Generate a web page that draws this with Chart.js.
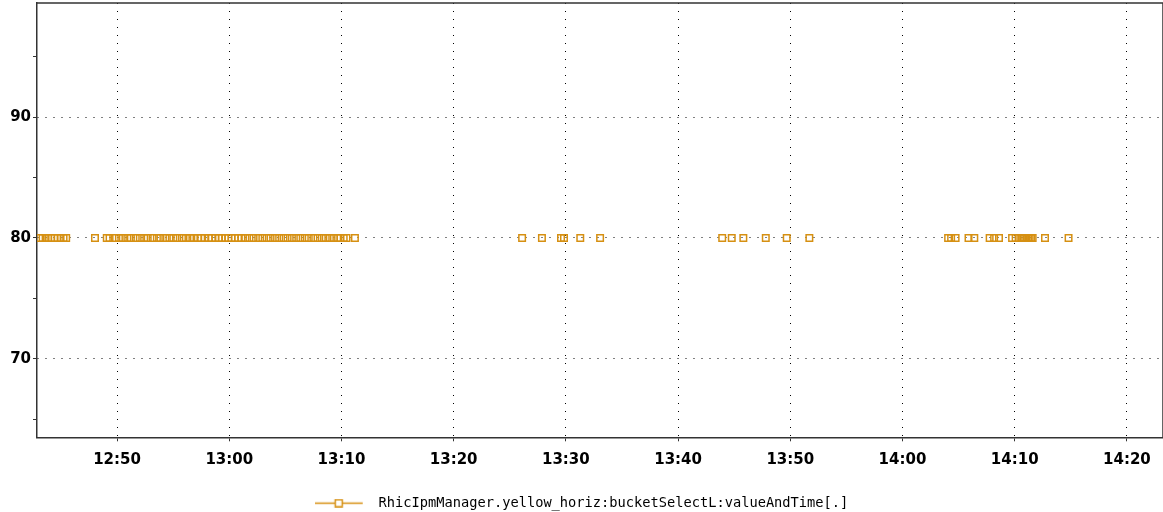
<!DOCTYPE html>
<html>
<head>
<meta charset="utf-8">
<title>bucketSelectL</title>
<script src="https://cdn.jsdelivr.net/npm/chart.js@4.4.1/dist/chart.umd.min.js"></script>
<style>
    html, body { margin: 0; padding: 0; background: #fff; }
    #wrap { width: 1163px; height: 512px; position: relative; }
</style>
</head>
<body>
<div id="wrap"><canvas id="bucketChart"></canvas></div>
<script>
/* ===========================
Data
=========================== */

const seriesLabel = "RhicIpmManager.yellow_horiz:bucketSelectL:valueAndTime[.]";

const times = [
    "12:43:08", "12:43:22", "12:43:38", "12:43:52", "12:44:08", "12:44:26", "12:44:42", "12:44:58", "12:45:14", "12:45:28",
    "12:48:02", "12:49:05", "12:49:20", "12:49:48", "12:50:10", "12:50:31", "12:50:55", "12:51:14", "12:51:40", "12:52:02",
    "12:52:25", "12:52:44", "12:53:10", "12:53:33", "12:53:52", "12:54:18", "12:54:40", "12:55:01", "12:55:22", "12:55:47",
    "12:56:08", "12:56:30", "12:56:51", "12:57:12", "12:57:30", "12:57:49", "12:58:10", "12:58:27", "12:58:46", "12:59:05",
    "12:59:20", "12:59:38", "12:59:55", "13:00:12", "13:00:30", "13:00:47", "13:01:05", "13:01:26", "13:01:48", "13:02:10",
    "13:02:35", "13:02:57", "13:03:20", "13:03:41", "13:04:05", "13:04:27", "13:04:50", "13:05:12", "13:05:35", "13:05:58",
    "13:06:20", "13:06:44", "13:07:05", "13:07:30", "13:07:52", "13:08:15", "13:08:36", "13:08:58", "13:09:20", "13:09:42",
    "13:09:55", "13:10:12", "13:10:27", "13:11:12", "13:26:06", "13:27:52", "13:29:34", "13:29:50", "13:31:17", "13:33:03",
    "13:43:56", "13:44:47", "13:45:49", "13:47:49", "13:49:41", "13:51:42", "14:04:04", "14:04:20", "14:04:44", "14:05:53",
    "14:06:24", "14:07:46", "14:08:10", "14:08:36", "14:09:46", "14:10:05", "14:10:30", "14:10:40", "14:10:48", "14:10:56",
    "14:11:04", "14:11:12", "14:11:20", "14:11:28", "14:11:36", "14:12:42", "14:14:48"
];

const values = [
    80, 80, 80, 80, 80, 80, 80, 80, 80, 80,
    80, 80, 80, 80, 80, 80, 80, 80, 80, 80,
    80, 80, 80, 80, 80, 80, 80, 80, 80, 80,
    80, 80, 80, 80, 80, 80, 80, 80, 80, 80,
    80, 80, 80, 80, 80, 80, 80, 80, 80, 80,
    80, 80, 80, 80, 80, 80, 80, 80, 80, 80,
    80, 80, 80, 80, 80, 80, 80, 80, 80, 80,
    80, 80, 80, 80, 80, 80, 80, 80, 80, 80,
    80, 80, 80, 80, 80, 80, 80, 80, 80, 80,
    80, 80, 80, 80, 80, 80, 80, 80, 80, 80,
    80, 80, 80, 80, 80, 80, 80
];

const xTickLabels = ["12:50", "13:00", "13:10", "13:20", "13:30", "13:40", "13:50", "14:00", "14:10", "14:20"];

const yTickValues = [65, 70, 75, 80, 85, 90, 95];
const yTickLabels = [70, 80, 90];

const xRange = ["12:42:52", "14:23:13"];
const yRange = [63.49, 99.46];

const markColor = "#D69012";

/* ===========================
Helpers
=========================== */

function toMinutes(str) {

    let parts = str.split(":").map(Number);

    return parts[0] * 60 + parts[1] + (parts[2] || 0) / 60;

}

const xTickValues = xTickLabels.map(toMinutes);

// legend symbol: line with a small open square
function legendMark() {

    let c = document.createElement("canvas");
    c.width = 57;
    c.height = 9;

    let g = c.getContext("2d");
    g.strokeStyle = markColor;
    g.lineWidth = 1.5;

    g.beginPath();
    g.moveTo(0, 4.5);
    g.lineTo(48, 4.5);
    g.stroke();

    g.fillStyle = "#fff";
    g.fillRect(20.5, 1, 7, 7);
    g.strokeRect(20.5, 1, 7, 7);

    return c;

}

// top and right edges of the plot frame
const frame = {

    id: "frame",

    afterDraw(chart) {

        let a = chart.chartArea;
        let ctx = chart.ctx;

        ctx.save();
        ctx.strokeStyle = "#333";
        ctx.lineWidth = 1.5;
        ctx.beginPath();
        ctx.moveTo(a.left, a.top);
        ctx.lineTo(a.right, a.top);
        ctx.lineTo(a.right, a.bottom);
        ctx.stroke();
        ctx.restore();

    }

};

// no extra room for the end labels
function noPadding(axis) {

    axis.paddingTop = 0;
    axis.paddingBottom = 0;
    axis.paddingLeft = 0;
    axis.paddingRight = 0;

}

/* ===========================
Chart
=========================== */

const tickFont = { family: "'DejaVu Sans'", weight: "bold", size: 15 };

new Chart(document.getElementById("bucketChart"), {

    type: "line",

    data: {

        datasets: [{

            label: seriesLabel,

            data: times.map((t, i) => ({ x: toMinutes(t), y: values[i] })),

            showLine: false,

            pointStyle: "rect",
            pointRadius: 4.6,
            pointHoverRadius: 4.6,
            pointBorderWidth: 1.5,
            pointBorderColor: markColor,
            pointBackgroundColor: "rgba(255,255,255,0)",
            borderColor: markColor

        }]

    },

    options: {

        responsive: true,
        maintainAspectRatio: false,
        animation: false,

        layout: {
            autoPadding: false,
            padding: { top: 3, right: 0, bottom: -8, left: 0 }
        },

        plugins: {

            tooltip: { enabled: false },

            legend: {
                position: "bottom",
                labels: {
                    usePointStyle: true,
                    pointStyle: legendMark(),
                    pointStyleWidth: 57,
                    boxHeight: 9,
                    padding: 2,
                    color: "#000",
                    font: { family: "'DejaVu Sans Mono'", size: 13.7 }
                }
            }

        },

        scales: {

            x: {

                type: "linear",
                min: toMinutes(xRange[0]),
                max: toMinutes(xRange[1]),

                afterBuildTicks: axis => {
                    axis.ticks = xTickValues.map(v => ({ value: v }));
                },

                afterFit: axis => {
                    axis.height = 57;
                    noPadding(axis);
                },

                ticks: {
                    autoSkip: false,
                    maxRotation: 0,
                    padding: 10,
                    color: "#000",
                    font: tickFont,
                    callback: v => {
                        let i = xTickValues.findIndex(t => Math.abs(t - v) < 0.01);
                        return i >= 0 ? xTickLabels[i] : "";
                    }
                },

                grid: {
                    color: "#000",
                    lineWidth: 1,
                    tickLength: 4,
                    tickColor: "#333"
                },

                border: { color: "#333", width: 1.5, dash: [1, 7] }

            },

            y: {

                min: yRange[0],
                max: yRange[1],

                afterBuildTicks: axis => {
                    axis.ticks = yTickValues.map(v => ({ value: v }));
                },

                afterFit: axis => {
                    axis.width = 37;
                    noPadding(axis);
                },

                ticks: {
                    padding: 2,
                    color: "#000",
                    font: tickFont,
                    callback: v => yTickLabels.includes(v) ? String(v) : ""
                },

                grid: {
                    color: ctx => yTickLabels.includes(ctx.tick && ctx.tick.value) ? "#000" : "rgba(0,0,0,0)",
                    lineWidth: 1,
                    tickLength: 4,
                    tickColor: "#333"
                },

                border: { color: "#333", width: 1.5, dash: [1, 7] }

            }

        }

    },

    plugins: [frame]

});
</script>
</body>
</html>
